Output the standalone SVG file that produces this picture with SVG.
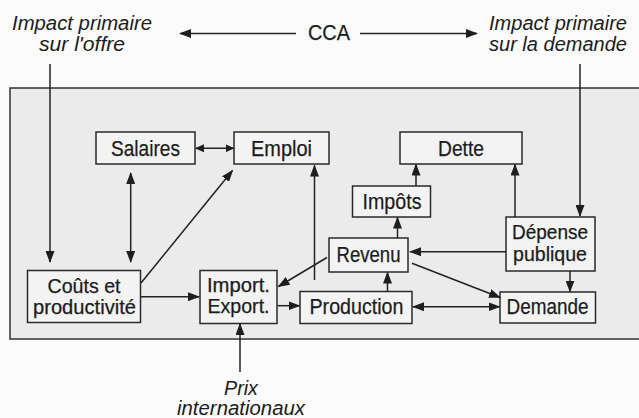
<svg xmlns="http://www.w3.org/2000/svg" width="639" height="418" viewBox="0 0 639 418">
  <defs>
    <marker id="head" markerUnits="userSpaceOnUse" markerWidth="12" markerHeight="9" refX="11" refY="4.5" orient="auto-start-reverse">
      <path d="M0,0 L12,4.5 L0,9 z" fill="#1e1e1e"/>
    </marker>
    <marker id="headSmall" markerUnits="userSpaceOnUse" markerWidth="9" markerHeight="8" refX="8" refY="4" orient="auto-start-reverse">
      <path d="M0,0 L9,4 L0,8 z" fill="#1e1e1e"/>
    </marker>
    <style>
      .frame { fill: #ebebeb; stroke: #333; stroke-width: 1.5; }
      .box { fill: #f3f3f3; stroke: #2a2a2a; stroke-width: 1.5; }
      .lbl { font-family: "Liberation Sans", Arial, sans-serif; font-size: 22px; fill: #1c1c1c; stroke: #1c1c1c; stroke-width: 0.25; text-anchor: middle; }
      .lbl2 { font-size: 20px; }
      .ital { font-family: "Liberation Sans", Arial, sans-serif; font-size: 21px; font-style: italic; fill: #1c1c1c; text-anchor: middle; }
      .ital2 { font-size: 20px; }
      .wire { fill: none; stroke: #222; stroke-width: 1.5; }
      .one { marker-end: url(#head); }
      .two { marker-start: url(#head); marker-end: url(#head); }
      .twoSmall { marker-start: url(#headSmall); marker-end: url(#headSmall); }
    </style>
  </defs>

  <!-- page -->
  <rect x="0" y="0" width="639" height="418" fill="#fbfbfb"/>
  <rect class="frame" x="10" y="88" width="640" height="251"/>

  <!-- outside labels -->
  <g id="impact-offre">
    <text class="ital ital2" x="82" y="29.5" textLength="140" lengthAdjust="spacingAndGlyphs">Impact primaire</text>
    <text class="ital ital2" x="82" y="50.5" textLength="86" lengthAdjust="spacingAndGlyphs">sur l'offre</text>
  </g>
  <g id="cca">
    <text class="lbl" x="329" y="39.5" font-size="20" stroke-width="0" textLength="42" lengthAdjust="spacingAndGlyphs">CCA</text>
  </g>
  <g id="impact-demande">
    <text class="ital ital2" x="558" y="29.5" textLength="138" lengthAdjust="spacingAndGlyphs">Impact primaire</text>
    <text class="ital ital2" x="558" y="50.5" textLength="138" lengthAdjust="spacingAndGlyphs">sur la demande</text>
  </g>
  <g id="prix">
    <text class="ital ital2" x="241" y="395" textLength="34" lengthAdjust="spacingAndGlyphs">Prix</text>
    <text class="ital ital2" x="241" y="415" textLength="128" lengthAdjust="spacingAndGlyphs">internationaux</text>
  </g>

  <!-- nodes -->
  <g id="salaires">
    <rect class="box" x="96" y="132" width="99" height="32"/>
    <text class="lbl" x="145.5" y="155.5" textLength="69" lengthAdjust="spacingAndGlyphs">Salaires</text>
  </g>
  <g id="emploi">
    <rect class="box" x="234" y="132" width="95" height="32"/>
    <text class="lbl" x="281.5" y="155.5" textLength="61" lengthAdjust="spacingAndGlyphs">Emploi</text>
  </g>
  <g id="dette">
    <rect class="box" x="400" y="132" width="122" height="32"/>
    <text class="lbl" x="461" y="155.5" textLength="46" lengthAdjust="spacingAndGlyphs">Dette</text>
  </g>
  <g id="impots">
    <rect class="box" x="352.5" y="186" width="78" height="31"/>
    <text class="lbl" x="392" y="208.5" textLength="59" lengthAdjust="spacingAndGlyphs">Impôts</text>
  </g>
  <g id="depense">
    <rect class="box" x="506" y="217" width="89" height="54"/>
    <text class="lbl lbl2" x="550" y="238.5" textLength="76" lengthAdjust="spacingAndGlyphs">Dépense</text>
    <text class="lbl lbl2" x="550" y="260.5" textLength="74" lengthAdjust="spacingAndGlyphs">publique</text>
  </g>
  <g id="revenu">
    <rect class="box" x="329" y="238" width="79" height="34"/>
    <text class="lbl" x="368.5" y="262" textLength="64" lengthAdjust="spacingAndGlyphs">Revenu</text>
  </g>
  <g id="couts">
    <rect class="box" x="27.5" y="270.5" width="113" height="52"/>
    <text class="lbl lbl2" x="84" y="293.3" textLength="73" lengthAdjust="spacingAndGlyphs">Coûts et</text>
    <text class="lbl lbl2" x="84.5" y="313.5" textLength="103" lengthAdjust="spacingAndGlyphs">productivité</text>
  </g>
  <g id="import">
    <rect class="box" x="200" y="270.5" width="77" height="53"/>
    <text class="lbl lbl2" x="238.5" y="291.7" textLength="63" lengthAdjust="spacingAndGlyphs">Import.</text>
    <text class="lbl lbl2" x="238.5" y="313.2" textLength="62" lengthAdjust="spacingAndGlyphs">Export.</text>
  </g>
  <g id="production">
    <rect class="box" x="300" y="291.5" width="112" height="32"/>
    <text class="lbl" x="356.5" y="313.5" textLength="94" lengthAdjust="spacingAndGlyphs">Production</text>
  </g>
  <g id="demande">
    <rect class="box" x="500" y="292" width="95.5" height="31"/>
    <text class="lbl" x="547.5" y="313.5" textLength="82" lengthAdjust="spacingAndGlyphs">Demande</text>
  </g>

  <!-- connectors -->
  <g id="connectors">
    <line class="wire one" x1="296" y1="33.5" x2="180" y2="33.5"/>
    <line class="wire one" x1="360" y1="33.5" x2="477" y2="33.5"/>
    <line class="wire one" x1="50" y1="64" x2="50" y2="262"/>
    <line class="wire one" x1="580" y1="64" x2="580" y2="216"/>
    <line class="wire two" x1="130.7" y1="173" x2="130.7" y2="262"/>
    <line class="wire twoSmall" x1="196" y1="148.3" x2="233.5" y2="148.3"/>
    <line class="wire one" x1="141" y1="283" x2="232.5" y2="170.5"/>
    <line class="wire one" x1="141" y1="296.7" x2="199" y2="296.7"/>
    <line class="wire one" x1="277.5" y1="305.7" x2="299.5" y2="305.7"/>
    <line class="wire one" x1="314.5" y1="280" x2="314.5" y2="165.5"/>
    <line class="wire one" x1="327" y1="257.5" x2="278.5" y2="286.5"/>
    <line class="wire one" x1="387.5" y1="291.5" x2="387.5" y2="272.5"/>
    <line class="wire one" x1="397.5" y1="238" x2="397.5" y2="217.5"/>
    <line class="wire one" x1="416" y1="186" x2="416" y2="164.5"/>
    <line class="wire one" x1="515" y1="217" x2="515" y2="164.5"/>
    <line class="wire one" x1="506" y1="251.7" x2="410" y2="251.7"/>
    <line class="wire one" x1="412" y1="263.3" x2="500" y2="297.5"/>
    <line class="wire two" x1="413" y1="306.7" x2="499.5" y2="306.7"/>
    <line class="wire one" x1="570" y1="271" x2="570" y2="291.5"/>
    <line class="wire one" x1="240" y1="372" x2="240" y2="324"/>
  </g>
</svg>
